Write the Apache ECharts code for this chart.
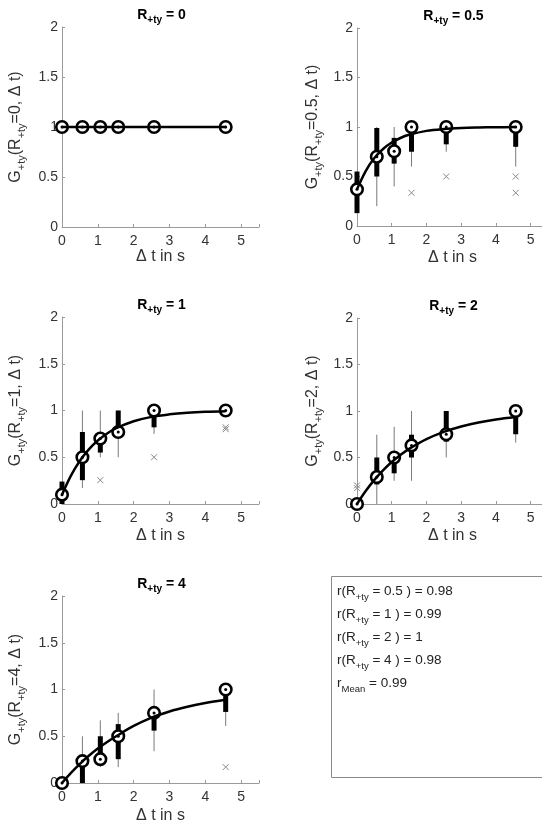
<!DOCTYPE html>
<html>
<head>
<meta charset="utf-8">
<script src="https://cdn.jsdelivr.net/npm/echarts@6/dist/echarts.min.js"></script>
<style>
  html, body { margin: 0; padding: 0; background: #fff; }
  #main { width: 542px; height: 825px; }
</style>
</head>
<body>
<div id="main"></div>
<script>
// time lags (s) of the measured points
var tData = [0, 0.57, 1.07, 1.57, 2.57, 4.57];
// sample positions of the fitted curve
var fitT = [0, 0.25, 0.5, 0.75, 1, 1.25, 1.5, 2, 2.5, 3, 3.5, 4, 4.57];

// R+ty = 0
var med_r0 = [1, 1, 1, 1, 1, 1];
var fit_r0 = [1, 1, 1, 1, 1, 1, 1, 1, 1, 1, 1, 1, 1];

// R+ty = 0.5
var med_r05   = [0.37, 0.70, 0.755, 1.0, 1.0, 1.0];
var boxLo_r05 = [0.13, 0.50, 0.63, 0.75, 0.825, 0.80];
var boxHi_r05 = [0.55, 0.99, 0.89, 1.0, 1.0, 1.0];
var whLo_r05  = [0.13, 0.20, 0.40, 0.60, 0.75, 0.60];
var whHi_r05  = [0.55, 1.0, 1.0, 1.0, 1.0, 1.0];
var out_r05   = [[1.57, 0.335], [2.57, 0.5], [4.57, 0.5], [4.57, 0.335]];
var fit_r05   = [0.37, 0.555, 0.686, 0.778, 0.843, 0.889, 0.921, 0.961, 0.980, 0.990, 0.995, 0.998, 0.999];

// R+ty = 1
var med_r1   = [0.10, 0.50, 0.70, 0.77, 1.0, 1.0];
var boxLo_r1 = [0.0, 0.255, 0.55, 0.77, 0.82, 1.0];
var boxHi_r1 = [0.24, 0.77, 0.73, 1.0, 1.0, 1.0];
var whLo_r1  = [0.0, 0.17, 0.5, 0.5, 0.75, 1.0];
var whHi_r1  = [0.24, 1.0, 1.0, 1.0, 1.0, 1.0];
var out_r1   = [[1.07, 0.255], [2.57, 0.5], [4.57, 0.82], [4.57, 0.80]];
var fit_r1   = [0.10, 0.304, 0.463, 0.585, 0.679, 0.752, 0.808, 0.885, 0.932, 0.959, 0.976, 0.986, 0.992];

// R+ty = 2
var med_r2   = [0.0, 0.29, 0.50, 0.63, 0.75, 1.0];
var boxLo_r2 = [0.0, 0.21, 0.33, 0.50, 0.67, 0.75];
var boxHi_r2 = [0.0, 0.50, 0.52, 0.745, 1.0, 1.0];
var whLo_r2  = [0.0, 0.0, 0.25, 0.25, 0.5, 0.66];
var whHi_r2  = [0.0, 0.745, 0.83, 1.0, 1.0, 1.0];
var out_r2   = [[0, 0.20], [0, 0.17]];
var fit_r2   = [0, 0.139, 0.259, 0.362, 0.451, 0.527, 0.593, 0.698, 0.776, 0.834, 0.877, 0.909, 0.935];

// R+ty = 4
var med_r4   = [0.0, 0.234, 0.255, 0.5, 0.75, 1.0];
var boxLo_r4 = [0.0, 0.0, 0.234, 0.255, 0.56, 0.76];
var boxHi_r4 = [0.0, 0.234, 0.50, 0.63, 0.75, 1.0];
var whLo_r4  = [0.0, 0.0, 0.17, 0.17, 0.34, 0.61];
var whHi_r4  = [0.0, 0.5, 0.67, 0.75, 1.0, 1.0];
var out_r4   = [[4.57, 0.17]];
var fit_r4   = [0, 0.108, 0.205, 0.291, 0.368, 0.436, 0.497, 0.61, 0.70, 0.765, 0.815, 0.855, 0.89];

// labels
var rLabels = ['0', '0.5', '1', '2', '4'];
var corrLabels = ['0.5', '1', '2', '4'];
var corrValues = ['0.98', '0.99', '1', '0.98'];
var corrMean = '0.99';

var panels = [
  { med: med_r0, boxLo: med_r0, boxHi: med_r0, whLo: med_r0, whHi: med_r0, out: [], fit: fit_r0 },
  { med: med_r05, boxLo: boxLo_r05, boxHi: boxHi_r05, whLo: whLo_r05, whHi: whHi_r05, out: out_r05, fit: fit_r05 },
  { med: med_r1, boxLo: boxLo_r1, boxHi: boxHi_r1, whLo: whLo_r1, whHi: whHi_r1, out: out_r1, fit: fit_r1 },
  { med: med_r2, boxLo: boxLo_r2, boxHi: boxHi_r2, whLo: whLo_r2, whHi: whHi_r2, out: out_r2, fit: fit_r2 },
  { med: med_r4, boxLo: boxLo_r4, boxHi: boxHi_r4, whLo: whLo_r4, whHi: whHi_r4, out: out_r4, fit: fit_r4 }
];

// plot rectangles (px)
var boxes = [
  { left: 62,  top: 27,  width: 197, height: 200, yGap: 35, xGap: 22 },
  { left: 357, top: 28,  width: 191, height: 198, yGap: 33, xGap: 24 },
  { left: 62,  top: 317, width: 197, height: 187, yGap: 35, xGap: 24 },
  { left: 357, top: 318, width: 191, height: 186, yGap: 33, xGap: 24 },
  { left: 62,  top: 596, width: 197, height: 187, yGap: 35, xGap: 25 }
];

var FONT = '"Liberation Sans", Arial, sans-serif';
var axisGray = '#9a9a9a';
var textCol = '#333';

var myChart = echarts.init(document.getElementById('main'), null, { renderer: 'canvas' });

var grids = [], xAxes = [], yAxes = [], titles = [], series = [];

// vertical segment from value 1 to value 2 at x = value 0
function segRender(color, width) {
  return function (params, api) {
    var p1 = api.coord([api.value(0), api.value(1)]);
    var p2 = api.coord([api.value(0), api.value(2)]);
    return {
      type: 'line',
      shape: { x1: p1[0], y1: p1[1], x2: p2[0], y2: p2[1] },
      style: { stroke: color, lineWidth: width }
    };
  };
}

// outlier cross
function crossRender(params, api) {
  var p = api.coord([api.value(0), api.value(1)]);
  var s = 3;
  return {
    type: 'group',
    children: [
      { type: 'line', shape: { x1: p[0] - s, y1: p[1] - s, x2: p[0] + s, y2: p[1] + s }, style: { stroke: '#888', lineWidth: 1 } },
      { type: 'line', shape: { x1: p[0] - s, y1: p[1] + s, x2: p[0] + s, y2: p[1] - s }, style: { stroke: '#888', lineWidth: 1 } }
    ]
  };
}

panels.forEach(function (p, i) {
  var b = boxes[i];
  var rl = rLabels[i];
  grids.push({ left: b.left, top: b.top, width: b.width, height: b.height, outerBoundsMode: 'none' });
  titles.push({
    text: '{b|R}{s|+ty}{b| = ' + rl + '}',
    left: b.left + b.width / 2 + 1,
    top: b.top - 22,
    textAlign: 'center',
    padding: 0,
    textStyle: {
      rich: {
        b: { fontFamily: FONT, fontSize: 14, fontWeight: 'bold', color: '#000', lineHeight: 20 },
        s: { fontFamily: FONT, fontSize: 10, fontWeight: 'bold', color: '#000', lineHeight: 20, verticalAlign: 'bottom' }
      }
    }
  });
  xAxes.push({
    gridIndex: i, type: 'value', min: 0, max: 5.5, interval: 1,
    name: 'Δ t in s', nameLocation: 'middle', nameGap: b.xGap,
    nameTextStyle: { fontFamily: FONT, fontSize: 16, color: textCol },
    axisLine: { lineStyle: { color: axisGray, width: 1 } },
    axisTick: { inside: true, length: 3, lineStyle: { color: axisGray } },
    axisLabel: {
      fontFamily: FONT, fontSize: 14, color: textCol, margin: 7,
      formatter: function (v) { return v % 1 === 0 ? String(v) : ''; }
    },
    splitLine: { show: false }
  });
  yAxes.push({
    gridIndex: i, type: 'value', min: 0, max: 2, interval: 0.5,
    name: '{n|G}{s|+ty}{n|(R}{s|+ty}{n|=' + rl + ', Δ t)}',
    nameLocation: 'middle', nameGap: b.yGap, nameRotate: 90,
    nameTextStyle: {
      rich: {
        n: { fontFamily: FONT, fontSize: 16, color: textCol, lineHeight: 22 },
        s: { fontFamily: FONT, fontSize: 11, color: textCol, lineHeight: 22, verticalAlign: 'bottom' }
      }
    },
    axisLine: { show: true, lineStyle: { color: axisGray, width: 1 } },
    axisTick: { show: true, inside: true, length: 3, lineStyle: { color: axisGray } },
    axisLabel: { fontFamily: FONT, fontSize: 14, color: textCol, margin: 4 },
    splitLine: { show: false }
  });

  var whisk = tData.map(function (t, k) { return [t, p.whLo[k], p.whHi[k]]; });
  var bx = tData.map(function (t, k) { return [t, p.boxLo[k], p.boxHi[k]]; });
  var medPts = tData.map(function (t, k) { return [t, p.med[k]]; });
  var fitPts = fitT.map(function (t, k) { return [t, p.fit[k]]; });

  series.push({
    type: 'custom', xAxisIndex: i, yAxisIndex: i, z: 1,
    renderItem: segRender('#7a7a7a', 1), data: whisk, silent: true
  });
  series.push({
    type: 'custom', xAxisIndex: i, yAxisIndex: i, z: 2,
    renderItem: segRender('#000', 5), data: bx, silent: true
  });
  series.push({
    type: 'custom', xAxisIndex: i, yAxisIndex: i, z: 2,
    renderItem: crossRender, data: p.out, silent: true
  });
  series.push({
    type: 'scatter', xAxisIndex: i, yAxisIndex: i, z: 3,
    symbol: 'circle', symbolSize: 11.5, data: medPts, silent: true,
    itemStyle: { color: '#fff', borderColor: '#000', borderWidth: 2.6, opacity: 1 }
  });
  series.push({
    type: 'scatter', xAxisIndex: i, yAxisIndex: i, z: 4,
    symbol: 'circle', symbolSize: 3, data: medPts, silent: true,
    itemStyle: { color: '#000', opacity: 1 }
  });
  series.push({
    type: 'line', xAxisIndex: i, yAxisIndex: i, z: 5,
    data: fitPts, smooth: 0.35, showSymbol: false, silent: true,
    lineStyle: { color: '#000', width: 2.5 }
  });
});

// correlation text box
var boxLines = corrLabels.map(function (r, k) {
  return '{n|r(R}{s|+ty}{n| = ' + r + ' ) = ' + corrValues[k] + '}';
});
boxLines.push('{n|r}{s|Mean}{n| = ' + corrMean + '}');

option = {
  animation: false,
  backgroundColor: '#fff',
  title: titles,
  grid: grids,
  xAxis: xAxes,
  yAxis: yAxes,
  series: series,
  graphic: [
    {
      type: 'rect', left: 331, top: 576, z: 0,
      shape: { width: 220, height: 201 },
      style: { fill: '#fff', stroke: '#8a8a8a', lineWidth: 1 }
    },
    {
      type: 'text', left: 337, top: 584, z: 1,
      style: {
        text: boxLines.join('\n'),
        rich: {
          n: { fontFamily: FONT, fontSize: 13.5, fill: '#222', lineHeight: 23 },
          s: { fontFamily: FONT, fontSize: 9.5, fill: '#222', lineHeight: 23, verticalAlign: 'bottom' }
        }
      }
    }
  ]
};

myChart.setOption(option);
</script>
</body>
</html>
